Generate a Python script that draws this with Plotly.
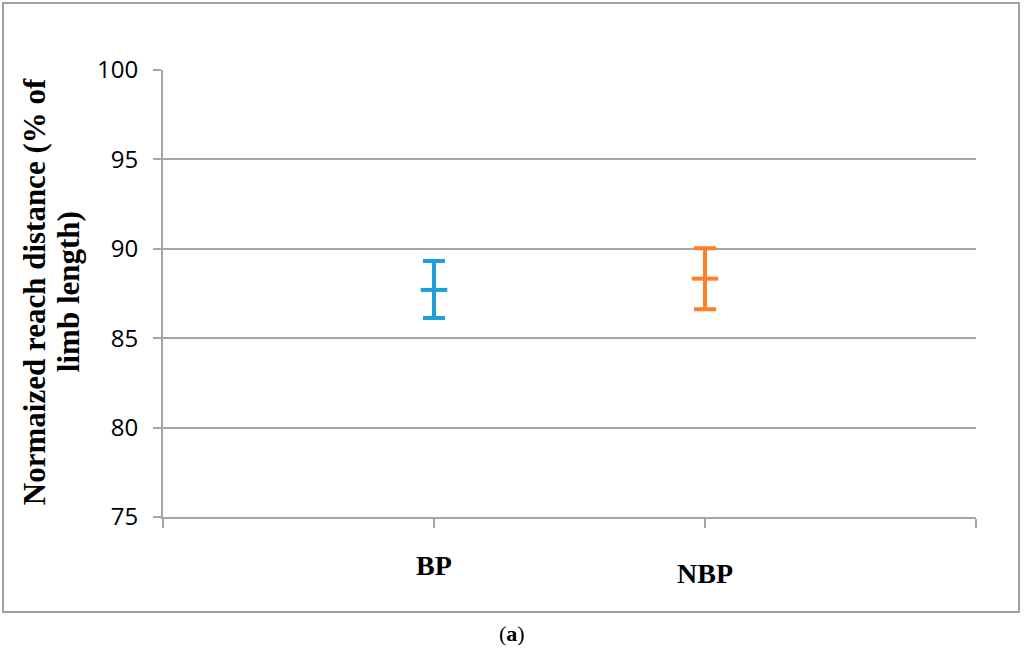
import plotly.graph_objects as go

categories = ["BP", "NBP"]
means = [87.70, 88.33]
upper = [89.32, 90.03]
lower = [86.13, 86.62]
colors = ["#1f9fd8", "#ff7f27"]
label_yshift = [0, -8]

y_ticks = [75, 80, 85, 90, 95, 100]

fig = go.Figure()
xs = list(range(1, len(categories) + 1))
for i, c in enumerate(categories):
    fig.add_trace(go.Scatter(
        x=[xs[i]], y=[means[i]], mode="markers",
        marker=dict(symbol="line-ew", size=19, line=dict(width=4, color=colors[i]), color=colors[i]),
        error_y=dict(type="data", symmetric=False,
                     array=[upper[i] - means[i]], arrayminus=[means[i] - lower[i]],
                     color=colors[i], thickness=4, width=11),
        showlegend=False, name=c,
    ))
    fig.add_annotation(x=xs[i], y=0, xref="x", yref="paper", text="<b>%s</b>" % c,
                       showarrow=False, yanchor="middle", yshift=-48 + label_yshift[i],
                       font=dict(family="Liberation Serif", size=28, color="black"))

grid = "#a6a6a6"
fig.update_xaxes(range=[0, len(categories) + 1], tickvals=list(range(0, len(categories) + 2)),
                 ticktext=[""] * (len(categories) + 2), ticks="outside", ticklen=9,
                 tickcolor=grid, tickwidth=2, showline=True, linecolor=grid, linewidth=2,
                 showgrid=False, zeroline=False)
fig.update_yaxes(range=[75, 100], tickvals=y_ticks, ticks="outside", ticklen=8,
                 tickcolor=grid, tickwidth=2, showline=True, linecolor=grid, linewidth=2,
                 gridcolor=grid, gridwidth=1.5, zeroline=False, ticklabelstandoff=10,
                 tickfont=dict(family="Open Sans", size=24, color="black"))

title_lines = ["Normaized reach distance (% of", "limb length)"]
title_x = [34, 68]
for t, px in zip(title_lines, title_x):
    fig.add_annotation(x=(px - 163) / 813, y=0.503, xref="paper", yref="paper",
                       text="<b>%s</b>" % t, textangle=-90, showarrow=False,
                       xanchor="center", yanchor="middle",
                       font=dict(family="Liberation Serif", size=31, color="black"))
fig.add_annotation(x=(512 - 163) / 813, y=(517 - 633) / 447, xref="paper", yref="paper",
                   text="(<b>a</b>)", showarrow=False, xanchor="center", yanchor="middle",
                   font=dict(family="Liberation Serif", size=22, color="black"))

fig.add_shape(type="rect", xref="paper", yref="paper",
              x0=(3 - 163) / 813, x1=(1019 - 163) / 813,
              y0=(517 - 612) / 447, y1=(517 - 3) / 447,
              line=dict(color="#a0a0a0", width=2))

fig.update_layout(width=1024, height=654, margin=dict(l=163, r=48, t=70, b=137),
                  plot_bgcolor="white", paper_bgcolor="white")
fig.write_html("out.html", config={"displayModeBar": False},
               post_script="document.body.style.margin='0';")
